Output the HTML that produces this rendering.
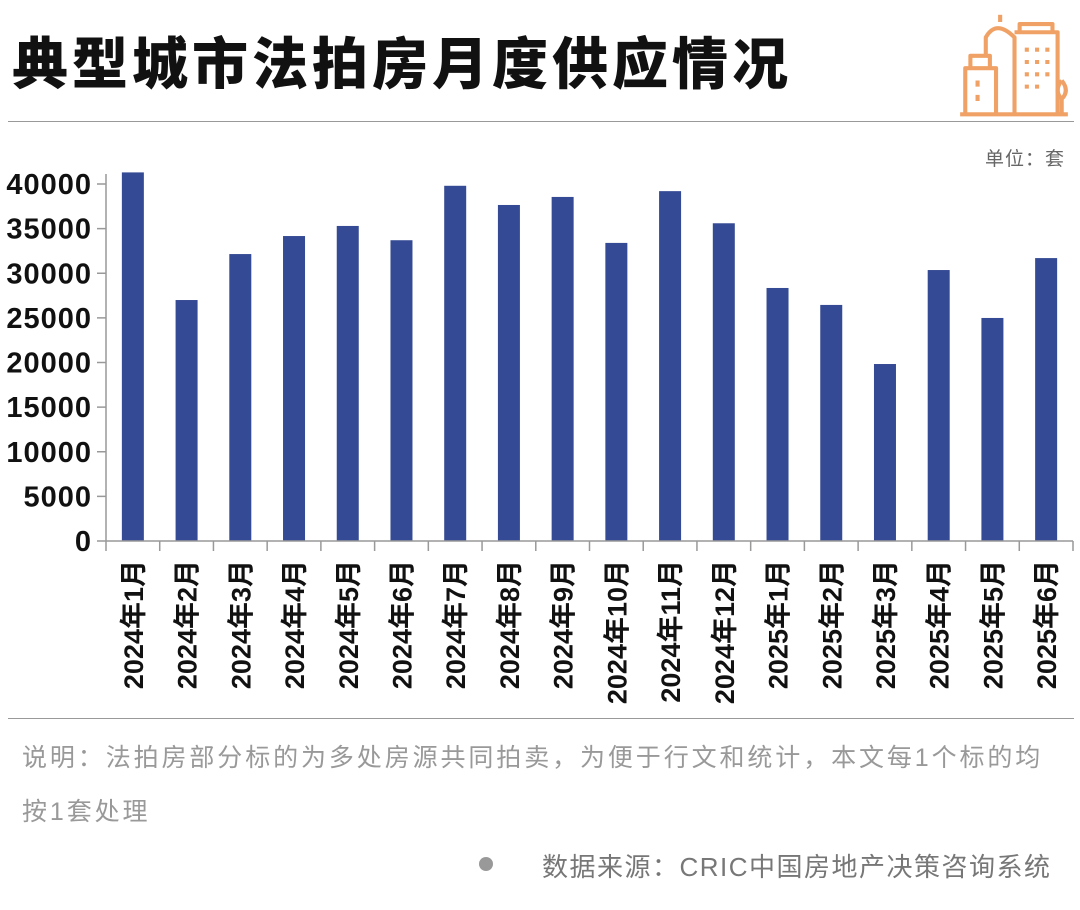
<!DOCTYPE html>
<html><head><meta charset="utf-8">
<style>
body{margin:0;width:1080px;height:910px;background:#fff;overflow:hidden;font-family:"Liberation Sans","Noto Sans CJK SC",sans-serif;}
.title{position:absolute;left:12px;top:20px;font-size:56px;font-weight:900;color:#111;letter-spacing:4px;font-family:"Noto Sans CJK SC",sans-serif;white-space:nowrap;}
</style></head><body>
<div class="title">典型城市法拍房月度供应情况</div>
<svg style="position:absolute;left:955px;top:6px" width="118" height="112" viewBox="0 0 115 108" fill="none" stroke="#f0a266" stroke-width="4" stroke-linejoin="round">
<path d="M5 105 H110"/><path d="M10 105 V60 H40 V105"/><path d="M15 60 V48 H34 V60"/><path d="M30 48 V30 Q40 12 58 30 V105"/><path d="M44 15 V8"/><path d="M58 25 H100 V105"/><path d="M63 25 V17 H95 V25"/><path d="M22 72 V78 M22 86 V92"/><path d="M70 40V44M80 40V44M90 40V44M70 52V56M80 52V56M90 52V56M70 64V68M80 64V68M90 64V68M70 76V80M80 76V80"/><path d="M104 105 V88 M104 72 Q96 82 104 90 Q112 82 104 72"/>
</svg>
<div style="position:absolute;left:8px;top:121px;width:1066px;height:1px;background:#999"></div>
<div style="position:absolute;left:985px;top:144px;font-size:19px;letter-spacing:1px;color:#666">单位：套</div>
<svg id="chart" style="position:absolute;left:0;top:0" width="1080" height="710"></svg>
<div style="position:absolute;left:8px;top:718px;width:1066px;height:1px;background:#999"></div>
<div style="position:absolute;left:22px;top:731px;width:1058px;font-size:25px;letter-spacing:2.9px;line-height:54px;color:#999;white-space:nowrap">说明：法拍房部分标的为多处房源共同拍卖，为便于行文和统计，本文每1个标的均<br>按1套处理</div>
<div style="position:absolute;left:479px;top:857px;width:14px;height:14px;border-radius:50%;background:#999"></div>
<div style="position:absolute;left:542px;top:847px;font-size:26px;letter-spacing:1.5px;color:#777;white-space:nowrap">数据来源：CRIC中国房地产决策咨询系统</div>
<script>
const categories=["2024年1月","2024年2月","2024年3月","2024年4月","2024年5月","2024年6月","2024年7月","2024年8月","2024年9月","2024年10月","2024年11月","2024年12月","2025年1月","2025年2月","2025年3月","2025年4月","2025年5月","2025年6月"];
const values=[41300,27000,32150,34170,35300,33700,39800,37650,38550,33400,39200,35600,28350,26450,19830,30360,24990,31700];
const yTicks=[0,5000,10000,15000,20000,25000,30000,35000,40000];
const svg=document.getElementById('chart');
const NS='http://www.w3.org/2000/svg';
const x0=106,x1=1073,y0=541,yTop=184,yMaxVal=40000;
const band=(x1-x0)/categories.length;
const yS=v=>y0-(v/yMaxVal)*(y0-yTop);
const xS=i=>x0+band*(i+0.5);
function mk(t,a){const e=document.createElementNS(NS,t);for(const k in a)e.setAttribute(k,a[k]);svg.appendChild(e);return e;}
yTicks.forEach(t=>{
 const l=mk('line',{x1:97,x2:x0,y1:yS(t),y2:yS(t),stroke:'#999','stroke-width':1.5});
 
 
 const tx=mk('text',{x:92,y:yS(t)+10,'text-anchor':'end','font-size':29,'font-weight':'bold','letter-spacing':1,fill:'#111','font-family':'Liberation Sans,sans-serif'});
 tx.textContent=t;
 
 
});
const ya=mk('line',{x1:x0,x2:x0,y1:yTop-10,y2:y0,stroke:'#999','stroke-width':1.5});


values.forEach((v,i)=>{
 const r=mk('rect',{x:xS(i)-11,y:yS(v),width:22,height:y0-yS(v),fill:'#354a94'});
 
 
});
const xa=mk('line',{x1:x0,x2:x1,y1:y0,y2:y0,stroke:'#999','stroke-width':1.5});


for(let i=0;i<=categories.length;i++){
 const t=mk('line',{x1:x0+band*i,x2:x0+band*i,y1:y0,y2:y0+10,stroke:'#999','stroke-width':1.5});
 
 
}
categories.forEach((c,i)=>{
 const tx=mk('text',{transform:`translate(${xS(i)+10},560) rotate(-90)`,'text-anchor':'end','font-size':27,'font-weight':'bold',fill:'#111','font-family':'Liberation Sans,Noto Sans CJK SC,sans-serif'});
 tx.textContent=c;
 
 
});
</script>
</body></html>
